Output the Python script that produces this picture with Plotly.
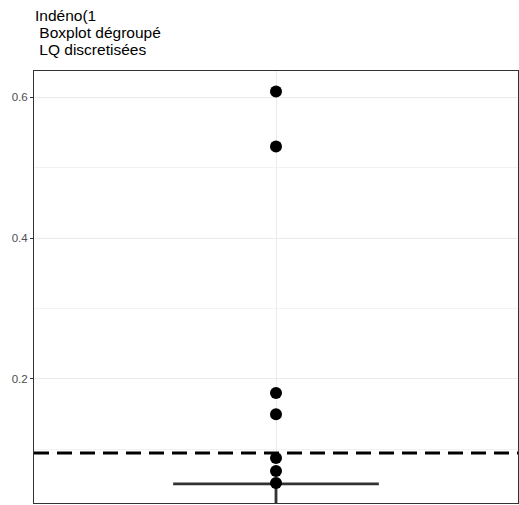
import plotly.graph_objects as go

# Data
title_lines = ["Indéno(1", "\u00a0Boxplot dégroupé", "\u00a0LQ discretisées"]
point_values = [0.608, 0.530, 0.180, 0.150, 0.088, 0.0695, 0.0525]
box_q1 = 0.051
box_median = 0.051
box_q3 = 0.051
box_lower = 0.01
box_upper = 0.051
threshold = 0.095
y_ticks = [0.2, 0.4, 0.6]
y_tick_labels = ["0.2", "0.4", "0.6"]
y_minor = [0.1, 0.3, 0.5]
group_pos = 0

fig = go.Figure()

fig.add_trace(go.Box(
    x=[group_pos], q1=[box_q1], median=[box_median], q3=[box_q3],
    lowerfence=[box_lower], upperfence=[box_upper],
    width=0.51, whiskerwidth=0, boxpoints=False,
    line=dict(color="#333333", width=2.8), fillcolor="rgba(255,255,255,0)",
    hoverinfo="skip", showlegend=False,
))

fig.add_trace(go.Scatter(
    x=[group_pos] * len(point_values), y=point_values, mode="markers",
    marker=dict(color="black", size=12, line=dict(width=0)),
    showlegend=False, hoverinfo="skip",
))

fig.add_hline(y=threshold, line=dict(color="black", width=3, dash="15px,8px"))

title_shifts = [56, 39, 22]
for line, ys in zip(title_lines, title_shifts):
    fig.add_annotation(
        text=line, xref="paper", yref="paper",
        x=0, y=1, xanchor="left", yanchor="middle", align="left", yshift=ys, xshift=-1,
        showarrow=False, font=dict(family="Liberation Sans, Arial", size=15.5, color="black"),
    )

fig.update_layout(
    width=519, height=505,
    margin=dict(l=34, r=1, t=71, b=2),
    plot_bgcolor="white", paper_bgcolor="white",
    font=dict(family="Liberation Sans, Arial"),
    hovermode=False,
    xaxis=dict(
        range=[-0.6, 0.6], tickvals=[group_pos], showticklabels=False, ticks="",
        showgrid=True, gridcolor="#EBEBEB", gridwidth=1, zeroline=False,
        showline=True, linecolor="#333333", linewidth=1, mirror=True,
    ),
    yaxis=dict(
        range=[0.024, 0.637], tickvals=y_ticks, ticktext=y_tick_labels,
        ticks="outside", ticklen=3, tickcolor="#333333", tickwidth=1,
        tickfont=dict(family="Liberation Sans, Arial", size=11.5, color="#4D4D4D"),
        showgrid=True, gridcolor="#EBEBEB", gridwidth=1, zeroline=False,
        showline=True, linecolor="#333333", linewidth=1, mirror=True,
        minor=dict(tickvals=y_minor, showgrid=True, gridcolor="#F2F2F2", gridwidth=0.6, ticks=""),
    ),
)

fig.write_html(
    "out.html",
    config={"displayModeBar": False},
    post_script="document.body.style.margin='0';document.body.style.overflow='hidden';",
)
